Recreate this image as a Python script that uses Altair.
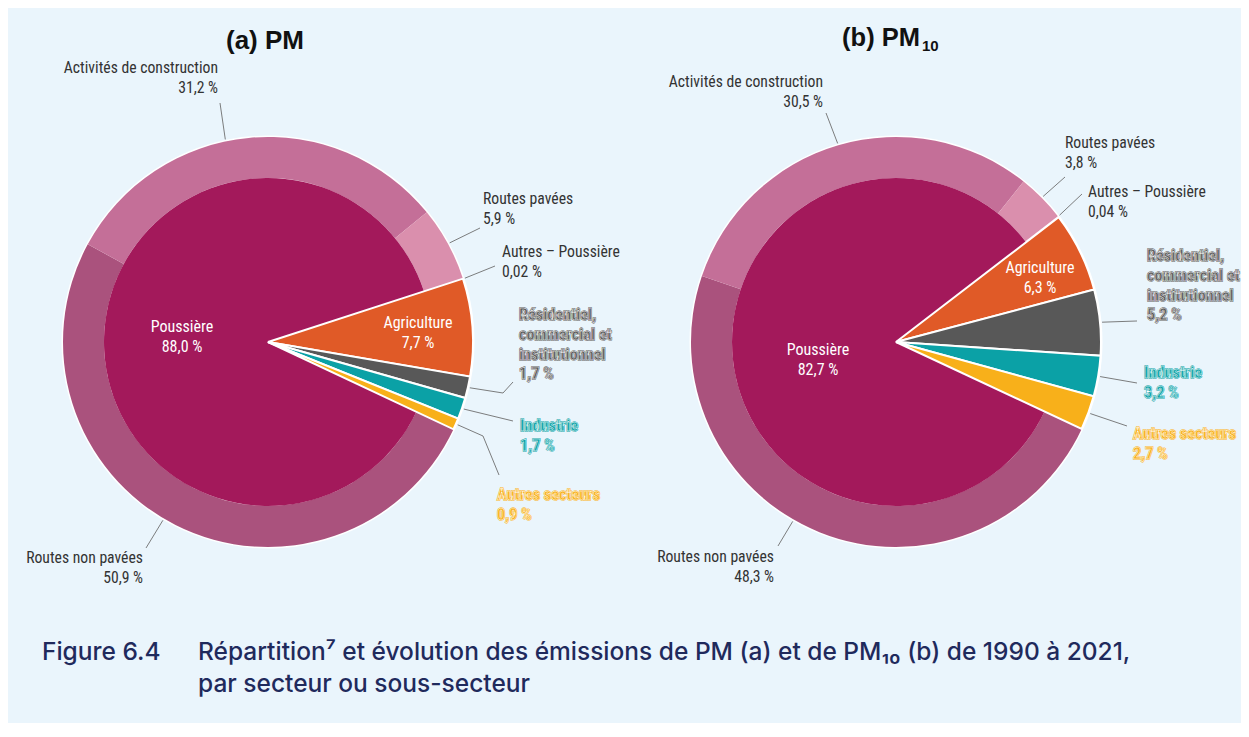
import math
import altair as alt
import pandas as pd

# ---------------- data ----------------
sectors = ["Agriculture", "Résidentiel, commercial et institutionnel",
           "Industrie", "Autres secteurs", "Poussière"]
pm_sector = [7.7, 1.7, 1.7, 0.9, 88.0]
pm10_sector = [6.3, 5.2, 3.2, 2.7, 82.7]

dust_sub = ["Routes non pavées", "Activités de construction",
            "Routes pavées", "Autres – Poussière"]
pm_dust = [50.9, 31.2, 5.9, 0.02]
pm10_dust = [48.3, 30.5, 3.8, 0.04]

titles = ["(a) PM", "(b) PM"]
title_sub = "10"
caption_num = "Figure 6.4"
caption_lines = ["Répartition⁷ et évolution des émissions de PM (a) et de PM₁₀ (b) de 1990 à 2021,",
                 "par secteur ou sous-secteur"]

# ---------------- style ----------------
palette = {
    "Agriculture": "#E05A27",
    "Résidentiel, commercial et institutionnel": "#585858",
    "Industrie": "#0BA1A6",
    "Autres secteurs": "#F8B01A",
    "Poussière": "#A3195B",
    "Routes non pavées": "#AA527D",
    "Activités de construction": "#C46F98",
    "Routes pavées": "#DA8FAD",
    "Autres – Poussière": "#E8B6C9",
}
color_scale = alt.Scale(domain=list(palette.keys()), range=list(palette.values()))

W, H = 1233, 715
OFF = 8
R_OUT, R_IN = 205, 164
LABEL_FONT = "Roboto Condensed, Liberation Sans Narrow, Roboto, sans-serif"
FS = 15.7
FS_OUT = 16.3
LH = 19.8

line_breaks = {"Résidentiel, commercial et institutionnel": ["Résidentiel,", "commercial et", "institutionnel"]}

layout_a = {
    "Agriculture": dict(x=150, y=-19, align="center", style="inside"),
    "Poussière": dict(x=-86, y=-15, align="center", style="inside"),
    "Activités de construction": dict(x=-50, y=-274, align="right", style="plain", end=(-48, -239), nudge=-6.5),
    "Routes pavées": dict(x=215, y=-143, align="left", style="plain", end=(212, -114)),
    "Autres – Poussière": dict(x=234, y=-90, align="left", style="plain", end=(227, -76)),
    "Résidentiel, commercial et institutionnel": dict(x=251, y=-27, align="left", style="outline",
                                                     elbow=(235, 51), end=(245, 40)),
    "Industrie": dict(x=252, y=84, align="left", style="outline", end=(245, 79)),
    "Autres secteurs": dict(x=229, y=153, align="left", style="outline", elbow=(215, 94), end=(231, 133)),
    "Routes non pavées": dict(x=-125, y=216, align="right", style="plain", end=(-122, 206), nudge=3.7),
}
layout_b = {
    "Agriculture": dict(x=144, y=-74, align="center", style="inside"),
    "Poussière": dict(x=-78, y=8, align="center", style="inside"),
    "Activités de construction": dict(x=-73, y=-260, align="right", style="plain", end=(-70, -229)),
    "Routes pavées": dict(x=169, y=-199, align="left", style="plain", end=(169, -165)),
    "Autres – Poussière": dict(x=192, y=-150, align="left", style="plain", end=(186, -148)),
    "Résidentiel, commercial et institutionnel": dict(x=251, y=-86, align="left", style="outline",
                                                     end=(241, -21)),
    "Industrie": dict(x=248, y=31, align="left", style="outline", end=(241, 41)),
    "Autres secteurs": dict(x=237, y=92, align="left", style="outline", end=(231, 84)),
    "Routes non pavées": dict(x=-122, y=215, align="right", style="plain", end=(-118, 204), nudge=8),
}

pies = [
    dict(key="a", cx=268 - OFF, cy=342 - OFF, start=72.0, svals=pm_sector, dvals=pm_dust,
         layout=layout_a, title_x=265 - OFF, title_y=41 - OFF),
    dict(key="b", cx=896 - OFF, cy=342 - OFF, start=52.5, svals=pm10_sector, dvals=pm10_dust,
         layout=layout_b, title_x=920 - OFF, title_y=38 - OFF),
]


def fmt(v):
    s = f"{v:.2f}" if v < 0.1 else f"{v:.1f}"
    return s.replace(".", ",") + " %"


sector_rows, ring_rows, halo_rows = [], [], []
label_rows, seg_rows = [], []
for p in pies:
    total = sum(p["svals"])
    a = math.radians(p["start"])
    mids = {}
    values = {}
    for name, v in zip(sectors, p["svals"]):
        t0, t1 = a, a + v / total * 2 * math.pi
        sector_rows.append(dict(pie=p["key"], name=name, t0=t0, t1=t1, cx=p["cx"], cy=p["cy"]))
        mids[name] = (t0 + t1) / 2
        values[name] = v
        if name == "Poussière":
            dust_start = t0
        a = t1
    a = dust_start
    for name, v in zip(dust_sub, p["dvals"]):
        t0, t1 = a, a + v / total * 2 * math.pi
        ring_rows.append(dict(pie=p["key"], name=name, t0=t0, t1=t1, cx=p["cx"], cy=p["cy"]))
        mids[name] = (t0 + t1) / 2
        values[name] = v
        a = t1
    halo_rows.append(dict(pie=p["key"], t0=0.0, t1=2 * math.pi, cx=p["cx"], cy=p["cy"]))

    for name, lay in p["layout"].items():
        lines = line_breaks.get(name, [name]) + [fmt(values[name])]
        for i, txt in enumerate(lines):
            label_rows.append(dict(pie=p["key"], name=name, text=txt, style=lay["style"],
                                   align=lay["align"], x=p["cx"] + lay["x"],
                                   y=p["cy"] + lay["y"] + i * LH))
        if "end" in lay:
            th = mids[name] + math.radians(lay.get("nudge", 0))
            r = R_OUT + 2
            pts = [(p["cx"] + r * math.sin(th), p["cy"] - r * math.cos(th))]
            if "elbow" in lay:
                pts.append((p["cx"] + lay["elbow"][0], p["cy"] + lay["elbow"][1]))
            pts.append((p["cx"] + lay["end"][0], p["cy"] + lay["end"][1]))
            for (x1, y1), (x2, y2) in zip(pts[:-1], pts[1:]):
                seg_rows.append(dict(x=x1, y=y1, x2=x2, y2=y2))

sector_df = pd.DataFrame(sector_rows)
ring_df = pd.DataFrame(ring_rows)
halo_df = pd.DataFrame(halo_rows)
label_df = pd.DataFrame(label_rows)
seg_df = pd.DataFrame(seg_rows)

X = alt.X("cx:Q", scale=None, axis=None)
Y = alt.Y("cy:Q", scale=None, axis=None)
TH = alt.Theta("t0:Q", scale=None)
TH2 = alt.Theta2("t1:Q")
COL = alt.Color("name:N", scale=color_scale, legend=None)

halo = alt.Chart(halo_df).mark_arc(radius=R_OUT + 1.5, color="white").encode(x=X, y=Y, theta=TH, theta2=TH2)
ring = alt.Chart(ring_df).mark_arc(radius=R_OUT, radius2=R_IN).encode(x=X, y=Y, theta=TH, theta2=TH2, color=COL)
dust = alt.Chart(sector_df[sector_df.name == "Poussière"]).mark_arc(radius=R_IN).encode(
    x=X, y=Y, theta=TH, theta2=TH2, color=COL)
others = alt.Chart(sector_df[sector_df.name != "Poussière"]).mark_arc(
    radius=R_OUT, stroke="white", strokeWidth=2).encode(x=X, y=Y, theta=TH, theta2=TH2, color=COL)

leaders = alt.Chart(seg_df).mark_rule(color="#6e6e6e", strokeWidth=0.9).encode(
    x=alt.X("x:Q", scale=None, axis=None), y=alt.Y("y:Q", scale=None, axis=None), x2="x2:Q", y2="y2:Q")

LX = alt.X("x:Q", scale=None, axis=None)
LY = alt.Y("y:Q", scale=None, axis=None)
text_layers = []
for align in ["left", "right", "center"]:
    d = label_df[(label_df["style"] == "plain") & (label_df["align"] == align)]
    if len(d):
        text_layers.append(alt.Chart(d).mark_text(align=align, baseline="middle", font=LABEL_FONT,
                                                  fontSize=FS, color="#333333").encode(x=LX, y=LY, text="text:N"))
    d = label_df[(label_df["style"] == "inside") & (label_df["align"] == align)]
    if len(d):
        text_layers.append(alt.Chart(d).mark_text(align=align, baseline="middle", font=LABEL_FONT,
                                                  fontSize=FS + 0.3, color="white").encode(
            x=LX, y=LY, text="text:N"))
    d = label_df[(label_df["style"] == "outline") & (label_df["align"] == align)]
    if len(d):
        text_layers.append(alt.Chart(d).mark_text(align=align, baseline="middle", font=LABEL_FONT,
                                                  fontSize=FS_OUT, fontWeight="bold", strokeWidth=1.3).encode(
            x=LX, y=LY, text="text:N", color=COL,
            stroke=alt.Stroke("name:N", scale=color_scale, legend=None)))
        text_layers.append(alt.Chart(d).mark_text(align=align, baseline="middle", font=LABEL_FONT,
                                                  fontSize=FS_OUT, fontWeight="bold", stroke="white",
                                                  strokeWidth=0.45).encode(x=LX, y=LY, text="text:N", color=COL))

title_df = pd.DataFrame([dict(text=titles[0], x=pies[0]["title_x"], y=pies[0]["title_y"])])
title_b_df = pd.DataFrame([dict(text=titles[1], x=pies[1]["title_x"], y=pies[1]["title_y"])])
sub_df = pd.DataFrame([dict(text=title_sub, x=pies[1]["title_x"] + 2, y=pies[1]["title_y"] + 8)])
TFONT = "Liberation Sans, Arial, sans-serif"
t_a = alt.Chart(title_df).mark_text(align="center", baseline="middle", font=TFONT, fontSize=26,
                                    fontWeight="bold", color="#111111").encode(x=LX, y=LY, text="text:N")
t_b = alt.Chart(title_b_df).mark_text(align="right", baseline="middle", font=TFONT, fontSize=25.5,
                                      fontWeight="bold", color="#111111").encode(x=LX, y=LY, text="text:N")
t_sub = alt.Chart(sub_df).mark_text(align="left", baseline="middle", font=TFONT, fontSize=15,
                                    fontWeight="bold", color="#111111").encode(x=LX, y=LY, text="text:N")

cap_df = pd.DataFrame([dict(text=caption_num, x=42 - OFF, y=653 - OFF)] +
                      [dict(text=t, x=198 - OFF, y=653 - OFF + i * 32) for i, t in enumerate(caption_lines)])
CFONT = "Inter, Roboto, sans-serif"
caption = alt.Chart(cap_df).mark_text(align="left", baseline="middle", font=CFONT, fontSize=24.5,
                                      fontWeight=500, color="#1F2A5C").encode(x=LX, y=LY, text="text:N")

chart = alt.layer(halo, ring, dust, others, leaders, *text_layers, t_a, t_b, t_sub, caption).properties(
    width=W, height=H, padding=0, autosize="none", background="#EAF5FC"
).configure_view(stroke=None)

chart.save("out.html", embed_options={"renderer": "svg", "actions": False})
